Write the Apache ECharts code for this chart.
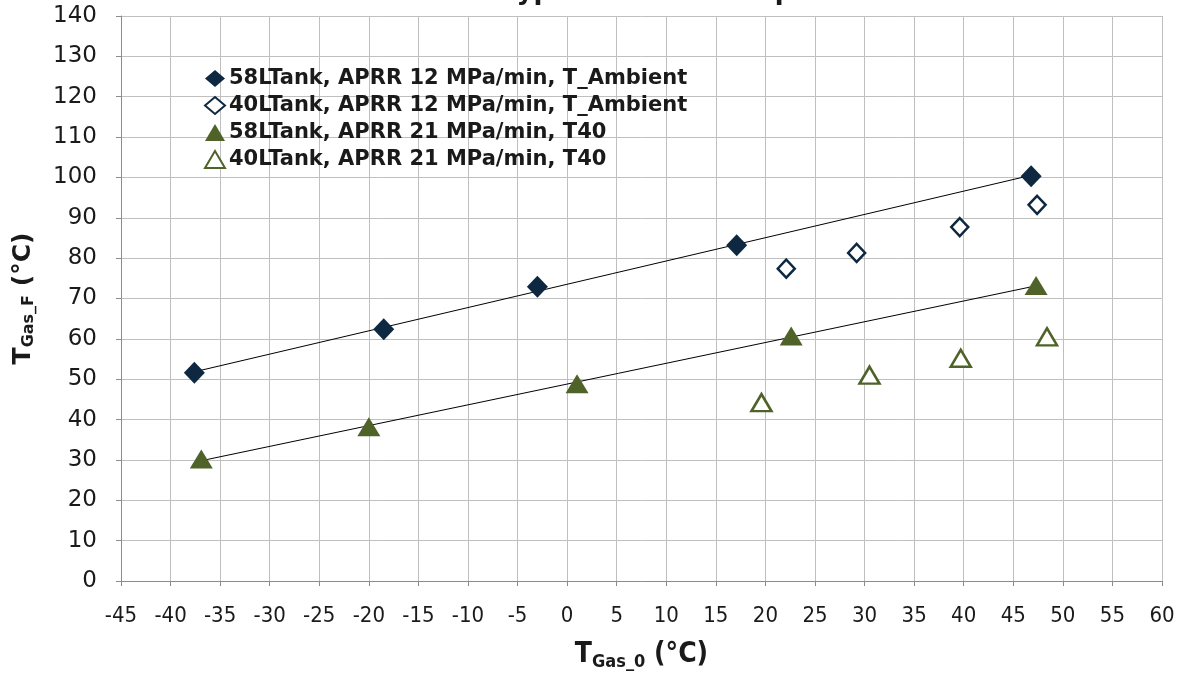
<!DOCTYPE html>
<html>
<head>
<meta charset="utf-8">
<script src="https://cdn.jsdelivr.net/npm/echarts@6/dist/echarts.min.js"></script>
<style>
  html, body { margin: 0; padding: 0; background: #fff; }
  #main { width: 1178px; height: 676px; }
</style>
</head>
<body>
<div id="main"></div>
<script>
// values
var xTicks = [-45, 60];
var yTicks = [0, 140];

var tank58_12x = [-37.6, -18.5, -3.0, 17.1, 46.8];
var tank58_12y = [51.6, 62.4, 72.9, 83.2, 100.3];
var tank40_12x = [22.1, 29.2, 39.6, 47.4];
var tank40_12y = [77.4, 81.3, 87.7, 93.2];
var tank58_21x = [-36.9, -20.0, 1.0, 22.6, 47.3];
var tank58_21y = [30.2, 38.2, 48.9, 60.7, 73.2];
var tank40_21x = [19.6, 30.5, 39.7, 48.4];
var tank40_21y = [44.2, 51.0, 55.2, 60.5];

var names = [
  '58LTank, APRR 12 MPa/min, T_Ambient',
  '40LTank, APRR 12 MPa/min, T_Ambient',
  '58LTank, APRR 21 MPa/min, T40',
  '40LTank, APRR 21 MPa/min, T40'
];

function pairs(xs, ys) {
  return xs.map(function (x, i) { return [x, ys[i]]; });
}

// least squares trend line over the filled series
function trend(xs, ys) {
  var n = xs.length, sx = 0, sy = 0, sxx = 0, sxy = 0;
  for (var i = 0; i < n; i++) {
    sx += xs[i]; sy += ys[i]; sxx += xs[i] * xs[i]; sxy += xs[i] * ys[i];
  }
  var b = (n * sxy - sx * sy) / (n * sxx - sx * sx);
  var a = (sy - b * sx) / n;
  var x0 = Math.min.apply(null, xs), x1 = Math.max.apply(null, xs);
  return [[x0, a + b * x0], [x1, a + b * x1]];
}

var navy = '#0E2841';
var olive = '#4F6228';
var narrow = '"Liberation Sans Narrow", "DejaVu Sans Condensed", "Roboto Condensed", "Liberation Sans", sans-serif';

var myChart = echarts.init(document.getElementById('main'));
myChart.setOption({
  animation: false,
  title: {
    text: '58L vs. 40L Type 3 tanks for Eq. A.1',
    left: 'center',
    top: -26,
    textStyle: { fontFamily: 'DejaVu Sans', fontSize: 26, fontWeight: 'bold', color: '#1a1a1a' }
  },
  grid: { left: 121, right: 16, top: 16, bottom: 90 },
  legend: {
    data: names,
    orient: 'vertical',
    left: 199,
    top: 63,
    itemGap: 6,
    itemWidth: 20,
    itemHeight: 17,
    textStyle: { fontFamily: 'DejaVu Sans', fontSize: 21, fontWeight: 'bold', color: '#1a1a1a', padding: [0, 0, 0, -1] }
  },
  xAxis: {
    type: 'value',
    min: xTicks[0],
    max: xTicks[1],
    interval: 5,
    name: '{t|T}{s|Gas_0}{t| (°C)}',
    nameLocation: 'middle',
    nameGap: 58,
    nameTextStyle: {
      rich: {
        t: { fontFamily: narrow, fontSize: 28, fontWeight: 'bold', color: '#1a1a1a' },
        s: { fontFamily: narrow, fontSize: 18, fontWeight: 'bold', color: '#1a1a1a', padding: [14, 0, 0, 0] }
      }
    },
    axisLine: { onZero: false, lineStyle: { color: '#8c8c8c', width: 1 } },
    axisTick: { show: true, length: 5, lineStyle: { color: '#8c8c8c' } },
    axisLabel: { fontFamily: narrow, fontSize: 22, color: '#1a1a1a', margin: 24 },
    splitLine: { show: true, lineStyle: { color: '#bfbfbf', width: 1 } }
  },
  yAxis: {
    type: 'value',
    min: yTicks[0],
    max: yTicks[1],
    interval: 10,
    name: '{t|T}{s|Gas_F}{t| (°C)}',
    nameLocation: 'middle',
    nameRotate: 90,
    nameGap: 84,
    nameTextStyle: {
      rich: {
        t: { fontFamily: 'DejaVu Sans', fontSize: 25, fontWeight: 'bold', color: '#1a1a1a' },
        s: { fontFamily: 'DejaVu Sans', fontSize: 16, fontWeight: 'bold', color: '#1a1a1a', padding: [12, 0, 0, 0] }
      }
    },
    axisLine: { show: true, onZero: false, lineStyle: { color: '#8c8c8c', width: 1 } },
    axisTick: { show: true, length: 5, lineStyle: { color: '#8c8c8c' } },
    axisLabel: { fontFamily: 'DejaVu Sans', fontSize: 23, color: '#1a1a1a', margin: 24 },
    splitLine: { show: true, lineStyle: { color: '#bfbfbf', width: 1 } }
  },
  series: [
    {
      name: 'trend58_12', type: 'line', data: trend(tank58_12x, tank58_12y),
      symbol: 'none', silent: true, z: 1,
      lineStyle: { color: '#000', width: 1 }
    },
    {
      name: 'trend58_21', type: 'line', data: trend(tank58_21x, tank58_21y),
      symbol: 'none', silent: true, z: 1,
      lineStyle: { color: '#000', width: 1 }
    },
    {
      name: names[0], type: 'scatter', data: pairs(tank58_12x, tank58_12y),
      symbol: 'diamond', symbolSize: [21, 22], z: 3,
      itemStyle: { color: navy, opacity: 1 }
    },
    {
      name: names[1], type: 'scatter', data: pairs(tank40_12x, tank40_12y),
      symbol: 'diamond', symbolSize: [17, 18], z: 3,
      itemStyle: { color: '#fff', borderColor: navy, borderWidth: 2.5, opacity: 1 }
    },
    {
      name: names[2], type: 'scatter', data: pairs(tank58_21x, tank58_21y),
      symbol: 'triangle', symbolSize: [23, 19], z: 3,
      itemStyle: { color: olive, opacity: 1 }
    },
    {
      name: names[3], type: 'scatter', data: pairs(tank40_21x, tank40_21y),
      symbol: 'triangle', symbolSize: [20, 17], z: 3,
      itemStyle: { color: '#fff', borderColor: olive, borderWidth: 2.5, opacity: 1 }
    }
  ]
});
</script>
</body>
</html>
